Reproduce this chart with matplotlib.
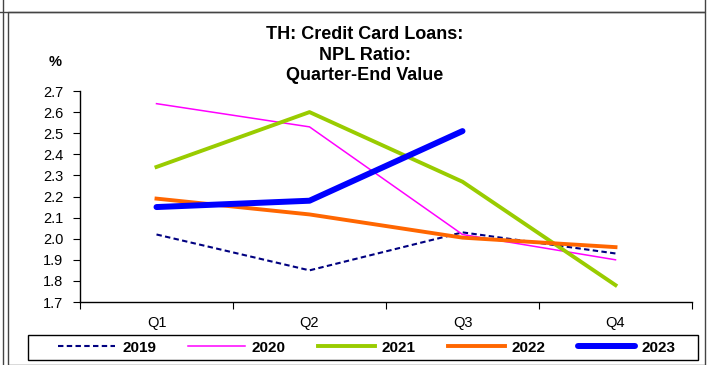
import matplotlib.pyplot as plt
from matplotlib.patches import Rectangle

plt.rcParams['font.family'] = ['Liberation Sans', 'DejaVu Sans']

quarters = ['Q1', 'Q2', 'Q3', 'Q4']
npl_2019 = [2.02, 1.85, 2.03, 1.93]
npl_2020 = [2.64, 2.53, 2.02, 1.90]
npl_2021 = [2.34, 2.60, 2.27, 1.78]
npl_2022 = [2.19, 2.115, 2.005, 1.96]
npl_2023 = [2.15, 2.18, 2.51]

fig = plt.figure(figsize=(7.12, 3.65), dpi=100)
W, H = 712, 365


def box(x0, y0, x1, y1, color='#444444', lw=1.0):
    # rectangle given in pixel coords (origin top-left)
    fig.patches.append(Rectangle((x0 / W, 1 - y1 / H), (x1 - x0) / W, (y1 - y0) / H,
                                 transform=fig.transFigure, fill=False,
                                 edgecolor=color, linewidth=lw))


# outer panel frames
box(8, 12, 705, 365)
box(-5, -20, 705, 12)
fig.add_artist(plt.Line2D([3 / W, 3 / W], [0, 1], color='#444444', linewidth=1.0,
                          transform=fig.transFigure))

ax = fig.add_axes([80 / W, 1 - 302 / H, (692 - 80) / W, (302 - 91) / H])
x = range(len(quarters))

ax.plot(x, npl_2019, color='#000080', linewidth=1.5, linestyle=(0, (2.6, 1.6)), label='2019')
ax.plot(x, npl_2020, color='#FF00FF', linewidth=1.1, label='2020')
ax.plot(x, npl_2021, color='#99CC00', linewidth=2.8, label='2021')
ax.plot(x, npl_2022, color='#FF6600', linewidth=2.8, label='2022')
ax.plot(range(len(npl_2023)), npl_2023, color='#0000FF', linewidth=4.3,
        solid_capstyle='round', label='2023')

ax.set_xlim(-0.5, 3.5)
ax.set_ylim(1.7, 2.7)
ax.set_yticks([1.7 + 0.1 * i for i in range(11)])
ax.set_yticklabels(['%.1f' % (1.7 + 0.1 * i) for i in range(11)], fontsize=10.5)
ax.set_xticks([-0.5, 0.5, 1.5, 2.5, 3.5])
ax.set_xticklabels([])
ax.set_xticks(list(x), minor=True)
ax.set_xticklabels(quarters, minor=True, fontsize=10.5)
ax.tick_params(axis='x', which='minor', length=0, pad=10)
ax.tick_params(axis='x', which='major', length=5, direction='out')
ax.tick_params(axis='y', length=5, direction='out', pad=7)
for s in ['top', 'right']:
    ax.spines[s].set_visible(False)
ax.spines['left'].set_linewidth(1.0)
ax.spines['bottom'].set_linewidth(1.0)

fig.text(365 / W, 1 - 55 / H, 'TH: Credit Card Loans:\nNPL Ratio:\nQuarter-End Value',
         ha='center', va='center', fontsize=13, fontweight='bold', linespacing=1.28)
fig.text(55 / W, 1 - 62 / H, '%', ha='center', va='center', fontsize=10.5, fontweight='bold')

# legend frame drawn separately, entries centred inside it
box(28, 335, 698, 360, color='black')
leg = fig.legend(loc='center', bbox_to_anchor=(367 / W, 1 - 347.5 / H), ncol=5,
                 frameon=False, prop={'weight': 'bold', 'size': 11}, handlelength=3.73,
                 columnspacing=2.1, handletextpad=0.45, borderpad=0)

fig.savefig('out.png', dpi=100)
